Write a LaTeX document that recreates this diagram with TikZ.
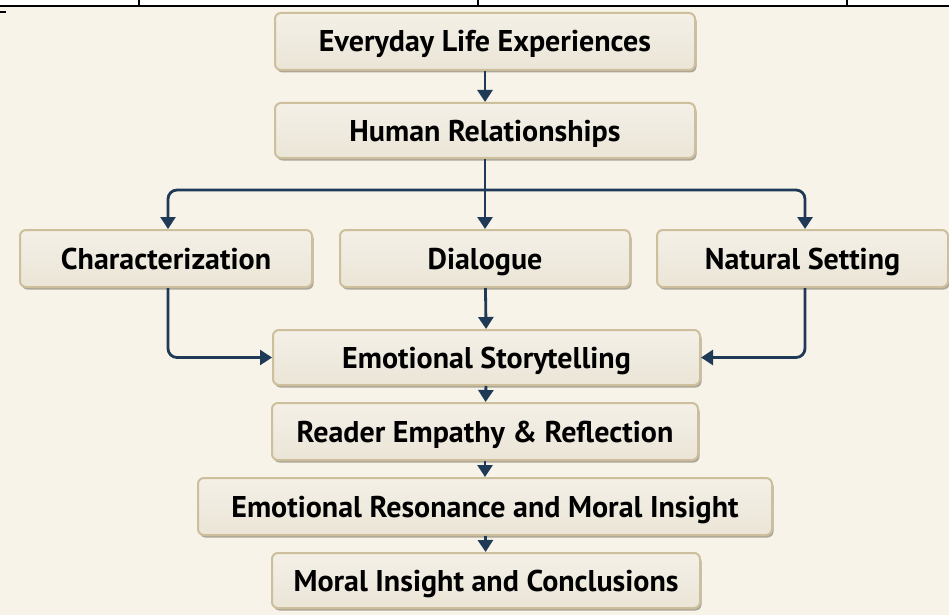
\documentclass[tikz,border=0pt]{standalone}
\usepackage{fontspec}
\setmainfont{PT Sans}
\usetikzlibrary{arrows.meta,shadows}
\definecolor{paper}{HTML}{F7F3E8}
\definecolor{boxtop}{HTML}{F4F0E7}
\definecolor{boxbot}{HTML}{EBE5D7}
\definecolor{boxrim}{HTML}{CDBE9C}
\definecolor{navy}{HTML}{1F3A56}
\tikzset{
  stage/.style={draw=boxrim, line width=2pt, rounded corners=6pt,
    top color=boxtop, bottom color=boxbot,
    drop shadow={shadow xshift=1.5pt, shadow yshift=-2.5pt, fill=black!45!boxrim, opacity=.55},
    font=\bfseries\fontsize{30}{33}\selectfont, text height=21pt, text depth=0pt, inner sep=0pt},
  flow/.style={navy, line width=2.8pt, -{Triangle[width=15pt,length=12pt]}},
  joint/.style={navy, line width=2.8pt}
}
\begin{document}
\begin{tikzpicture}[x=1pt,y=-1pt]
  \useasboundingbox (0,0) rectangle (949,615);
  \fill[paper] (0,6) rectangle (949,615);
  % Cut-off table rule at the top
  \draw[black,line width=1.6pt] (0,6) -- (949,6);
  \foreach \x in {139,478,847} \draw[black,line width=1.2pt] (\x,0) -- (\x,6);
  \draw[black,line width=1.6pt] (0,12) -- (6,12);
  % Stages
  \node[stage, minimum width=420pt, minimum height=57pt] (life)      at (485,41.5)  {Everyday Life Experiences};
  \node[stage, minimum width=420pt, minimum height=55pt] (human)     at (485,130.5) {Human Relationships};
  \node[stage, minimum width=292pt, minimum height=57pt] (charz)     at (166,258.5) {Characterization};
  \node[stage, minimum width=290pt, minimum height=57pt] (dialogue)  at (485,258.5) {Dialogue};
  \node[stage, minimum width=291pt, minimum height=57pt] (setting)   at (802.5,258.5) {Natural Setting};
  \node[stage, minimum width=427pt, minimum height=55pt] (story)     at (486.5,357.5) {Emotional Storytelling};
  \node[stage, minimum width=426pt, minimum height=57pt] (reader)    at (485,431.5) {Reader Empathy \& Reflection};
  \node[stage, minimum width=574pt, minimum height=57pt] (resonance) at (485,506.5) {Emotional Resonance and Moral Insight};
  \node[stage, minimum width=428pt, minimum height=55pt] (moral)     at (486,580.5) {Moral Insight and Conclusions};
  % Branching from relationships
  \coordinate (split) at (485,190);
  \draw[flow] (life) -- (human);
  \draw[joint] (human) -- (split);
  \draw[flow,rounded corners=9pt] (split) -| (charz.north -| 168,0);
  \draw[flow,rounded corners=9pt] (split) -| (setting.north -| 805,0);
  \draw[flow] (split) -- (dialogue);
  % Merging into storytelling
  \draw[flow,rounded corners=9pt] (charz.south -| 168,0) |- (story.west);
  \draw[flow,rounded corners=9pt] (setting.south -| 805,0) |- (story.east);
  \draw[flow] (dialogue) -- (story);
  % Down to the conclusions
  \draw[flow] (story) -- (reader);
  \draw[flow] (reader) -- (resonance);
  \draw[flow] (resonance) -- (moral);
\end{tikzpicture}
\end{document}
